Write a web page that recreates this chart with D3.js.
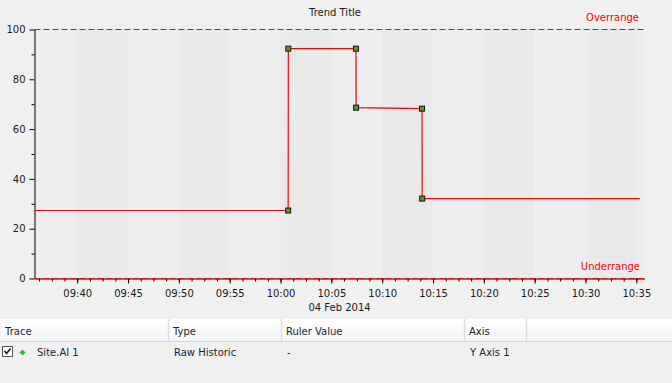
<!DOCTYPE html>
<html>
<head>
<meta charset="utf-8">
<script src="https://cdn.jsdelivr.net/npm/d3@7"></script>
<style>
  body { margin: 0; background: #f0f0f0; }
  svg { display: block; font-family: "DejaVu Sans", sans-serif; }
</style>
</head>
<body>
<div id="chart"></div>
<script>
// trend window and samples
const windowStart = "09:35:48";
const windowEnd = "10:35:48";
const priorValue = 27.3;          // value held before the first sample
const lastUpdate = "10:35:20";    // line is held up to this time
const sampleTimes = ["10:00:45", "10:00:46", "10:07:25", "10:07:26", "10:13:55", "10:13:56"];
const sampleValues = [27.3, 92.3, 92.3, 68.6, 68.2, 32.1];
const yTicks = [0, 20, 40, 60, 80, 100];
const yMinorTicks = [10, 30, 50, 70, 90];
const overrange = 100, underrange = 0;

const columns = ["Trace", "Type", "Ruler Value", "Axis"];
const traceRow = ["Site.AI 1", "Raw Historic", "-", "Y Axis 1"];

const parse = d3.timeParse("%H:%M:%S");

const W = 672, H = 383;
const svg = d3.select("#chart")
  .append("svg")
  .attr("width", W)
  .attr("height", H);

const x = d3.scaleTime()
  .domain([parse(windowStart), parse(windowEnd)])
  .range([34.5, 644.5]);
const y = d3.scaleLinear()
  .domain([0, 100])
  .range([278.5, 29.5]);

// alternating background bands, one per 5 minutes
const bandEdges = [x.domain()[0], ...d3.timeMinute.every(5).range(x.domain()[0], x.domain()[1]), x.domain()[1]];
for (let i = 0; i < bandEdges.length - 1; i++) {
  const m = bandEdges[i].getMinutes();
  const dark = (Math.floor(m / 5) % 2 === 0) && bandEdges[i].getSeconds() === 0;
  svg.append("rect")
    .attr("x", x(bandEdges[i]))
    .attr("y", y(100))
    .attr("width", x(bandEdges[i + 1]) - x(bandEdges[i]))
    .attr("height", y(0) - y(100))
    .attr("fill", dark ? "#eaeaea" : "#eeeeee");
}

// title
svg.append("text")
  .attr("x", 335)
  .attr("y", 16)
  .attr("text-anchor", "middle")
  .attr("font-size", 10)
  .attr("fill", "#1b1b1b")
  .text("Trend Title");

// x axis (major + minor ticks)
const minorTimes = d3.range(-3, 45).map(i => new Date(parse("09:40:00").getTime() + i * 75000))
  .filter(d => d >= x.domain()[0] && d <= x.domain()[1]);

svg.append("g")
  .attr("transform", `translate(0,${y(0)})`)
  .call(d3.axisBottom(x).tickValues(minorTimes).tickSize(3).tickFormat(""))
  .call(g => g.select(".domain").remove());

const xAxis = svg.append("g")
  .attr("transform", `translate(0,${y(0)})`)
  .call(d3.axisBottom(x)
    .ticks(d3.timeMinute.every(5))
    .tickSize(5)
    .tickSizeOuter(0)
    .tickPadding(6.5)
    .tickFormat(d3.timeFormat("%H:%M")));
xAxis.selectAll("text").attr("font-size", 10).attr("fill", "#1b1b1b").attr("font-family", "DejaVu Sans");

svg.append("text")
  .attr("x", (x.range()[0] + x.range()[1]) / 2)
  .attr("y", 311)
  .attr("text-anchor", "middle")
  .attr("font-size", 10)
  .attr("fill", "#1b1b1b")
  .text("04 Feb 2014");

// y axis
svg.append("g")
  .attr("transform", `translate(${x.range()[0]},0)`)
  .call(d3.axisLeft(y).tickValues(yMinorTicks).tickSize(3).tickFormat(""))
  .call(g => g.select(".domain").remove());

const yAxis = svg.append("g")
  .attr("transform", `translate(${x.range()[0]},0)`)
  .call(d3.axisLeft(y).tickValues(yTicks).tickSize(5).tickSizeOuter(0).tickPadding(4));
yAxis.selectAll("text").attr("font-size", 10).attr("fill", "#1b1b1b").attr("font-family", "DejaVu Sans");

// over / under range limits
[overrange, underrange].forEach(v => {
  svg.append("line")
    .attr("x1", x.range()[0])
    .attr("x2", x.range()[1])
    .attr("y1", y(v))
    .attr("y2", y(v))
    .attr("stroke", "#ff0000")
    .attr("stroke-dasharray", "6,3");
});
svg.append("text")
  .attr("x", 639)
  .attr("y", 21)
  .attr("text-anchor", "end")
  .attr("font-size", 10)
  .attr("fill", "#ff0000")
  .text("Overrange");
svg.append("text")
  .attr("x", 640)
  .attr("y", 270)
  .attr("text-anchor", "end")
  .attr("font-size", 10)
  .attr("fill", "#ff0000")
  .text("Underrange");

// trace
const samples = sampleTimes.map((t, i) => ({ t: parse(t), v: sampleValues[i] }));
const tracePoints = [
  { t: x.domain()[0], v: priorValue },
  ...samples,
  { t: parse(lastUpdate), v: sampleValues[sampleValues.length - 1] }
];
const line = d3.line()
  .x(d => x(d.t))
  .y(d => y(d.v));
svg.append("path")
  .datum(tracePoints)
  .attr("d", line)
  .attr("fill", "none")
  .attr("stroke", "#ff0000")
  .attr("stroke-width", 1.2);

svg.selectAll(".marker")
  .data(samples)
  .enter().append("rect")
  .attr("class", "marker")
  .attr("x", d => x(d.t) - 2.5)
  .attr("y", d => y(d.v) - 2.5)
  .attr("width", 5)
  .attr("height", 5)
  .attr("fill", "#5a9a1c")
  .attr("stroke", "#111")
  .attr("stroke-width", 1);

// trace table
const defs = svg.append("defs");
const grad = defs.append("linearGradient")
  .attr("id", "hdr")
  .attr("x1", 0).attr("y1", 0).attr("x2", 0).attr("y2", 1);
grad.append("stop").attr("offset", "0%").attr("stop-color", "#ffffff");
grad.append("stop").attr("offset", "100%").attr("stop-color", "#f3f4f6");

svg.append("rect")
  .attr("x", 0).attr("y", 319)
  .attr("width", W).attr("height", 22)
  .attr("fill", "url(#hdr)");
svg.append("line")
  .attr("x1", 0).attr("x2", W)
  .attr("y1", 341.5).attr("y2", 341.5)
  .attr("stroke", "#d5d5d5");

const colX = [0, 168, 281, 464];
const sepX = [168, 281, 464, 526];
sepX.forEach(sx => {
  svg.append("line")
    .attr("x1", sx + 0.5).attr("x2", sx + 0.5)
    .attr("y1", 319).attr("y2", 341)
    .attr("stroke", "#dcdcdc")
    .attr("stroke-width", 1.5);
});

columns.forEach((c, i) => {
  svg.append("text")
    .attr("x", colX[i] + 5)
    .attr("y", 335)
    .attr("font-size", 10)
    .attr("fill", "#1e1e30")
    .text(c);
});

traceRow.forEach((c, i) => {
  svg.append("text")
    .attr("x", i === 0 ? 37 : colX[i] + 6)
    .attr("y", 356)
    .attr("font-size", 10)
    .attr("fill", "#1e1e30")
    .text(c);
});

// checkbox and trace colour diamond
svg.append("rect")
  .attr("x", 2.5).attr("y", 346.5)
  .attr("width", 10).attr("height", 10)
  .attr("fill", "#fff")
  .attr("stroke", "#555");
svg.append("path")
  .attr("d", "M4.5,351 L6.5,353.5 L10.5,348.5")
  .attr("fill", "none")
  .attr("stroke", "#111")
  .attr("stroke-width", 1.5);
svg.append("path")
  .attr("d", "M22.5,350 L25,352.5 L22.5,355 L20,352.5 Z")
  .attr("fill", "#22cc22")
  .attr("stroke", "#118811")
  .attr("stroke-width", 0.6);
</script>
</body>
</html>
